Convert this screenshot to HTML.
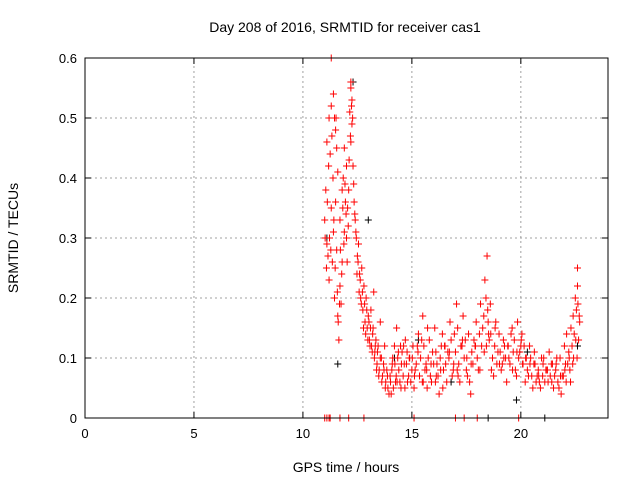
<!DOCTYPE html>
<html><head><meta charset="utf-8"><style>
body{margin:0;background:#fff}
svg{display:block;font-family:"Liberation Sans",sans-serif}
</style></head><body>
<svg id="chart" width="640" height="480">
<text x="345" y="32" text-anchor="middle" font-size="14">Day 208 of 2016, SRMTID for receiver cas1</text>
<text x="346" y="472" text-anchor="middle" font-size="14">GPS time / hours</text>
<text x="18" y="238" text-anchor="middle" font-size="14" transform="rotate(-90 18 238)">SRMTID / TECUs</text>
<g id="grid"></g><g id="ticks"></g><g id="marks"></g>
<rect x="85" y="58" width="523" height="360" fill="none" stroke="#000"/>
</svg>
<script>
const xTicks=[0,5,10,15,20];
const yTicks=[0,0.1,0.2,0.3,0.4,0.5,0.6];
const yTickLabels=["0","0.1","0.2","0.3","0.4","0.5","0.6"];
const redTimes=[11.0,11.05,11.1,11.1,11.15,11.2,11.2,11.25,11.3,11.3,11.35,11.4,11.4,11.45,11.5,11.5,11.55,11.6,11.6,11.65,11.7,11.7,11.75,11.8,11.8,11.85,11.9,11.9,11.95,12.0,12.0,12.05,12.1,12.15,12.2,12.2,12.25,12.3,12.35,12.4,12.45,12.5,12.55,12.6,12.65,12.7,12.75,12.8,12.85,12.9,12.95,13.0,13.05,13.1,13.15,13.2,13.3,13.35,13.4,13.45,13.5,13.6,13.65,13.7,13.8,13.85,13.9,14.0,14.05,14.1,14.2,14.25,14.3,14.35,14.4,14.5,14.55,14.6,14.7,14.75,14.8,14.9,15.0,15.05,15.1,15.2,15.3,15.35,15.4,15.5,15.55,15.6,15.7,15.75,15.8,15.9,16.0,16.05,16.1,16.2,16.25,16.3,16.4,16.45,16.5,16.6,16.7,16.75,16.8,16.9,17.0,17.05,17.1,17.15,17.2,17.3,17.35,17.4,17.5,17.6,17.65,17.7,17.8,17.9,17.95,18.0,18.1,18.15,18.2,18.3,18.35,18.4,18.45,18.5,18.55,18.6,18.7,18.75,18.8,18.9,19.0,19.05,19.1,19.2,19.3,19.35,19.4,19.5,19.6,19.65,19.7,19.8,19.85,19.9,20.0,20.05,20.1,20.2,20.25,20.3,20.4,20.5,20.55,20.6,20.7,20.8,20.9,21.0,21.05,21.1,21.2,21.3,21.35,21.4,21.5,21.6,21.7,21.8,21.85,21.9,22.0,22.05,22.1,22.2,22.25,22.3,22.35,22.4,22.45,22.5,22.55,22.6,22.6,22.65,22.7,11.3,11.45,11.55,12.2,12.25,11.0,11.1,11.2,11.25,11.7,12.1,12.8,15.1,17.0,17.4,18.0,19.9,
11.02,11.08,11.12,11.18,11.22,11.28,11.33,11.38,11.42,11.48,11.52,11.58,11.62,11.68,11.72,11.78,11.83,11.88,11.93,11.98,12.03,12.08,12.12,12.18,12.23,12.28,12.33,12.38,12.43,12.48,12.53,12.58,12.63,12.68,12.73,12.78,12.83,12.88,12.93,12.98,13.03,13.08,13.12,13.18,13.22,13.28,13.32,13.38,13.42,13.48,13.55,13.62,13.72,13.78,13.88,13.95,14.02,14.08,14.15,14.22,14.28,14.38,14.45,14.52,14.62,14.68,14.78,14.85,14.95,15.02,15.15,15.25,15.45,15.52,15.65,15.72,15.85,15.95,16.08,16.15,16.35,16.42,16.55,16.65,16.85,16.95,17.08,17.25,17.45,17.55,17.75,17.85,18.05,18.25,18.42,18.48,18.52,18.65,18.85,18.95,19.15,19.25,19.45,19.55,19.75,19.95,20.08,20.15,20.35,20.45,20.65,20.75,20.85,20.95,21.15,21.25,21.45,21.55,21.65,21.75,21.95,22.08,22.15,22.28,22.42,22.52,22.58,22.62,22.68,
13.25,13.55,13.75,14.12,14.32,14.48,14.65,14.88,15.12,15.28,15.48,15.68,15.88,16.12,16.32,16.52,16.72,16.92,17.12,17.32,17.52,17.72,17.92,18.12,18.32,18.62,18.82,19.02,19.22,19.42,19.62,19.82,20.02,20.22,20.42,20.62,20.82,21.02,21.22,21.42,21.62,21.82,22.02,22.22,22.38];
const redValues=[0.33,0.38,0.29,0.46,0.27,0.5,0.23,0.44,0.52,0.35,0.26,0.54,0.31,0.2,0.48,0.36,0.28,0.17,0.41,0.13,0.22,0.33,0.19,0.38,0.26,0.4,0.31,0.45,0.36,0.42,0.3,0.35,0.38,0.51,0.56,0.46,0.53,0.42,0.36,0.33,0.3,0.27,0.29,0.24,0.2,0.25,0.18,0.22,0.16,0.2,0.15,0.17,0.13,0.15,0.12,0.14,0.11,0.13,0.09,0.12,0.08,0.1,0.07,0.09,0.06,0.08,0.05,0.07,0.04,0.09,0.12,0.06,0.15,0.1,0.08,0.05,0.11,0.07,0.13,0.09,0.06,0.1,0.08,0.12,0.05,0.09,0.14,0.07,0.1,0.17,0.12,0.08,0.05,0.1,0.13,0.06,0.09,0.15,0.11,0.07,0.04,0.1,0.14,0.08,0.12,0.06,0.1,0.16,0.13,0.08,0.11,0.19,0.15,0.09,0.06,0.12,0.17,0.1,0.08,0.14,0.06,0.04,0.09,0.12,0.16,0.1,0.14,0.19,0.12,0.17,0.23,0.2,0.27,0.16,0.13,0.19,0.1,0.07,0.12,0.09,0.14,0.11,0.08,0.13,0.1,0.06,0.12,0.09,0.15,0.11,0.13,0.07,0.16,0.1,0.12,0.14,0.09,0.06,0.1,0.08,0.12,0.07,0.05,0.09,0.06,0.08,0.05,0.07,0.1,0.06,0.08,0.11,0.07,0.09,0.05,0.08,0.06,0.1,0.04,0.07,0.12,0.09,0.14,0.11,0.08,0.15,0.12,0.17,0.14,0.2,0.18,0.22,0.25,0.13,0.16,0.6,0.5,0.45,0.55,0.49,0,0,0,0,0,0,0,0,0,0,0,0,
0.3,0.25,0.36,0.42,0.3,0.28,0.47,0.4,0.33,0.25,0.5,0.21,0.16,0.19,0.28,0.24,0.35,0.29,0.39,0.34,0.26,0.32,0.43,0.47,0.52,0.5,0.39,0.34,0.31,0.24,0.26,0.21,0.23,0.19,0.21,0.15,0.19,0.14,0.18,0.13,0.16,0.12,0.18,0.11,0.15,0.1,0.12,0.08,0.11,0.07,0.1,0.06,0.08,0.05,0.07,0.04,0.06,0.08,0.05,0.09,0.07,0.11,0.06,0.09,0.12,0.05,0.11,0.07,0.06,0.1,0.08,0.12,0.13,0.06,0.09,0.15,0.07,0.11,0.06,0.09,0.12,0.05,0.09,0.11,0.07,0.14,0.08,0.12,0.13,0.07,0.11,0.13,0.08,0.15,0.12,0.18,0.14,0.08,0.16,0.11,0.09,0.12,0.1,0.14,0.08,0.11,0.09,0.12,0.07,0.1,0.09,0.07,0.06,0.1,0.08,0.06,0.09,0.07,0.1,0.05,0.07,0.06,0.09,0.06,0.1,0.13,0.1,0.19,0.17,0.21,
0.16,0.12,0.1,0.06,0.12,0.09,0.1,0.07,0.11,0.06,0.08,0.09,0.07,0.08,0.12,0.11,0.09,0.07,0.13,0.1,0.09,0.12,0.08,0.11,0.14,0.15,0.09,0.1,0.12,0.08,0.11,0.13,0.1,0.09,0.11,0.07,0.09,0.08,0.06,0.09,0.07,0.08,0.1,0.09,0.1];
const blackTimes=[11.1,11.6,12.3,13.0,14.2,19.8,22.6,18.5,21.1,15.3,16.8,20.3];
const blackValues=[0.3,0.09,0.56,0.33,0.1,0.03,0.12,0,0,0.13,0.06,0.11];
const NS="http://www.w3.org/2000/svg";
const X0=85,X1=608,Y0=418,Y1=58,XMAX=24,YMAX=0.6;
function xs(t){return X0+(X1-X0)*t/XMAX}
function ys(v){return Y0-(Y0-Y1)*v/YMAX}
function mk(tag,attrs,parent){const e=document.createElementNS(NS,tag);for(const k in attrs)e.setAttribute(k,attrs[k]);parent.appendChild(e);return e}
const grid=document.getElementById('grid'),ticks=document.getElementById('ticks'),marks=document.getElementById('marks');
xTicks.forEach(t=>{const x=xs(t);
 if(t>0){const g=mk('line',{x1:x,y1:Y0,x2:x,y2:Y1,stroke:'#a0a0a0','stroke-dasharray':'2,3'},grid);
 
 }
 mk('line',{x1:x,y1:Y0,x2:x,y2:Y0-6,stroke:'#000'},ticks);mk('line',{x1:x,y1:Y1,x2:x,y2:Y1+6,stroke:'#000'},ticks);
 const l=mk('text',{x:x,y:Y0+20,'text-anchor':'middle','font-size':13},ticks);l.textContent=t;
 
 
});
yTicks.forEach((v,i)=>{const y=ys(v);
 if(v>0&&v<YMAX){const g=mk('line',{x1:X0,y1:y,x2:X1,y2:y,stroke:'#a0a0a0','stroke-dasharray':'2,3'},grid);
 
 }
 mk('line',{x1:X0,y1:y,x2:X0+6,y2:y,stroke:'#000'},ticks);mk('line',{x1:X1,y1:y,x2:X1-6,y2:y,stroke:'#000'},ticks);
 const l=mk('text',{x:X0-8,y:y+5,'text-anchor':'end','font-size':13},ticks);l.textContent=yTickLabels[i];
 
 
});
function plus(t,v,col){const x=xs(t),y=ys(v);
 const p=mk('path',{d:`M${x-3.5},${y}h7M${x},${y-3.5}v7`,stroke:col,'stroke-width':1,fill:'none'},marks);
 
 
}
blackTimes.forEach((t,i)=>plus(t,blackValues[i],'#000'));
redTimes.forEach((t,i)=>plus(t,redValues[i],'#f00'));
</script>
</body></html>
